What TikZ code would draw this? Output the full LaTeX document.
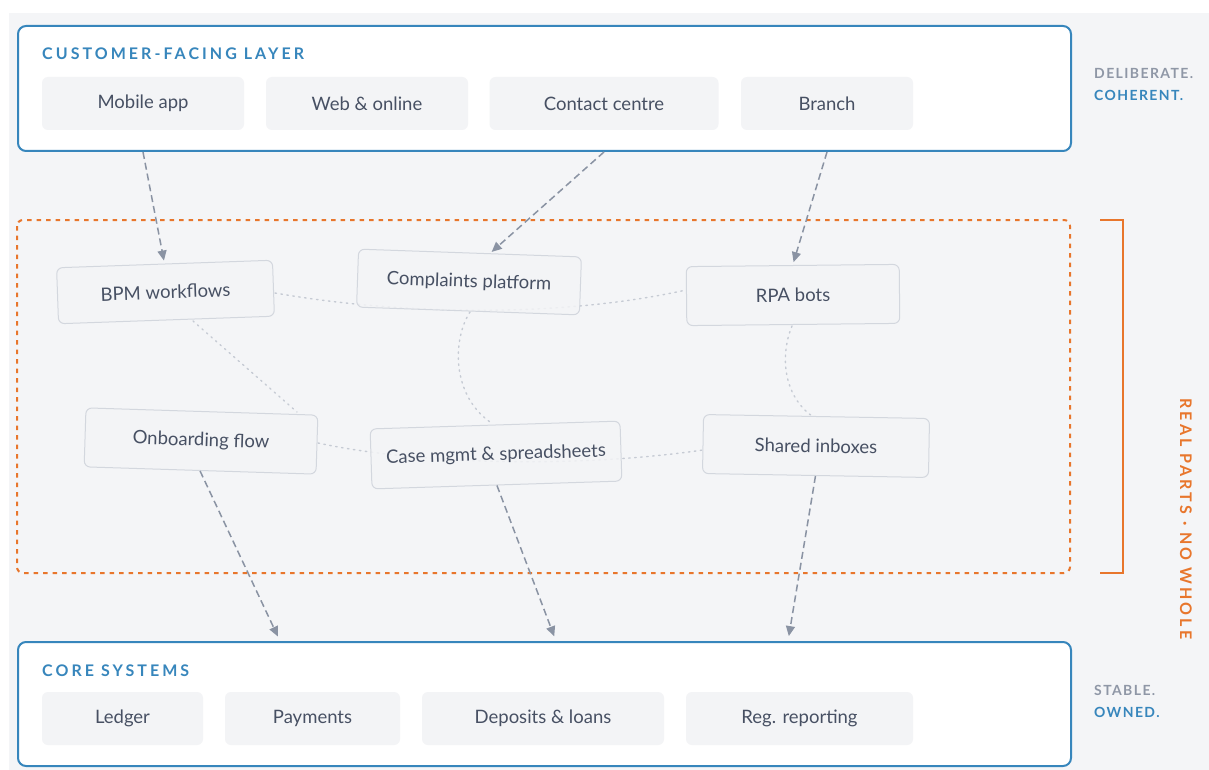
\documentclass[tikz,border=0pt]{standalone}
\usepackage{fontspec}
\setmainfont{Lato}
\usetikzlibrary{arrows.meta,calc}
\definecolor{pagebg}{HTML}{F4F5F7}
\definecolor{layerblue}{HTML}{3786BC}
\definecolor{chipfill}{HTML}{F3F4F6}
\definecolor{chipline}{HTML}{D3D7DE}
\definecolor{inktext}{HTML}{475063}
\definecolor{arrowgray}{HTML}{8A93A3}
\definecolor{dotgray}{HTML}{C6CBD4}
\definecolor{accent}{HTML}{E8762C}
\definecolor{mutedlabel}{HTML}{8F97A6}
\tikzset{
  layerbox/.style={draw=layerblue, line width=2pt, fill=white, rounded corners=8pt},
  layertitle/.style={anchor=base west, inner sep=0pt, text=layerblue, font=\fontsize{16}{19}\selectfont\bfseries\addfontfeatures{LetterSpace=19}},
  chip/.style={fill=chipfill, rounded corners=6pt, text=inktext, font=\fontsize{18.5}{22}\selectfont, inner sep=0pt},
  part/.style={draw=chipline, line width=1pt, fill=chipfill, fill opacity=0.85, text opacity=1, rounded corners=6pt, text=inktext, font=\fontsize{18.5}{22}\selectfont, inner sep=0pt},
  flow/.style={draw=arrowgray, line width=1.5pt, dash pattern=on 7pt off 4pt, -{Triangle[length=10pt,width=9pt]}},
  tangle/.style={draw=dotgray, line width=1.4pt, dash pattern=on 1.5pt off 4.5pt, line cap=round},
  sidenote/.style={anchor=base west, inner sep=0pt, font=\fontsize{14}{17}\selectfont\bfseries\addfontfeatures{LetterSpace=10}},
}
\begin{document}
\begin{tikzpicture}[x=1pt,y=-1pt]
\useasboundingbox (0,0) rectangle (1209,770);
\fill[pagebg] (9,13) rectangle (1209,770);

% customer-facing layer
\node[layerbox, minimum width=1053pt, minimum height=125pt, anchor=north west] (top) at (17,25) {};
\node[layertitle] (toptitle) at (42,60) {CUSTOMER-FACING LAYER};
\node[chip, minimum width=202pt, minimum height=53pt] (mob) at (143,103.5) {Mobile app};
\node[chip, minimum width=202pt, minimum height=53pt] (web) at (367,103.5) {Web \& online};
\node[chip, minimum width=229pt, minimum height=53pt] (cc) at (604,103.5) {Contact centre};
\node[chip, minimum width=172pt, minimum height=53pt] (br) at (827,103.5) {Branch};

% core systems layer
\node[layerbox, minimum width=1053pt, minimum height=124pt, anchor=north west] (core) at (17,641) {};
\node[layertitle] (coretitle) at (42,676) {CORE SYSTEMS};
\node[chip, minimum width=161pt, minimum height=53pt] (led) at (122.5,718.5) {Ledger};
\node[chip, minimum width=175pt, minimum height=53pt] (pay) at (312.5,718.5) {Payments};
\node[chip, minimum width=242pt, minimum height=53pt] (dep) at (543,718.5) {Deposits \& loans};
\node[chip, minimum width=227pt, minimum height=53pt] (reg) at (799.5,718.5) {Reg. reporting};

% side notes
\node[sidenote, text=mutedlabel] (n1) at (1094,79) {DELIBERATE.};
\node[sidenote, text=layerblue] (n2) at (1094,101) {COHERENT.};
\node[sidenote, text=mutedlabel] (n3) at (1094,695) {STABLE.};
\node[sidenote, text=layerblue] (n4) at (1094,717) {OWNED.};

% the middle zone
\draw[accent, line width=2pt, dash pattern=on 4.5pt off 5pt, rounded corners=6pt] (17,220) rectangle (1070,573);
\draw[accent, line width=2.5pt] (1100,220) -- (1123,220) -- (1123,573) -- (1100,573);
\node[text=accent, rotate=-90, inner sep=0pt, font=\fontsize{16}{19}\selectfont\bfseries\addfontfeatures{LetterSpace=19}] (tag) at (1186,519) {REAL PARTS · NO WHOLE};

% loose coordinates where flows land on the core
\coordinate (k1) at (280,641);
\coordinate (k2) at (556,641);
\coordinate (k3) at (788,641);

% tangled connections between the parts
\draw[tangle] (275,293) .. controls (400,315) and (560,318) .. (686,290);
\draw[tangle] (318,443) .. controls (420,465) and (580,468) .. (703,450);
\draw[tangle] (470,312) .. controls (452,340) and (452,395) .. (490,422);
\draw[tangle] (792,326) .. controls (780,355) and (783,395) .. (812,416);
\draw[tangle] (193,321) -- (297,412);

% parts
\node[part, minimum width=216pt, minimum height=56pt, rotate=2] (bpm) at (165.5,292) {BPM workflows};
\node[part, minimum width=223pt, minimum height=58pt, rotate=-2] (cpl) at (469,282) {Complaints platform};
\node[part, minimum width=213pt, minimum height=59pt, rotate=0.6] (rpa) at (793,295) {RPA bots};
\node[part, minimum width=232pt, minimum height=59pt, rotate=-1.8] (onb) at (201,441) {Onboarding flow};
\node[part, minimum width=250pt, minimum height=60pt, rotate=1.8] (cas) at (496,455) {Case mgmt \& spreadsheets};
\node[part, minimum width=226pt, minimum height=59pt, rotate=-1] (shr) at (816,446) {Shared inboxes};

% flows down through the middle
\draw[flow, shorten >=3pt] (mob.south |- top.south) -- (bpm.north);
\draw[flow, shorten >=2pt] (cc.south |- top.south) -- ($(cpl.north)!0.18!(cpl.north east)$);
\draw[flow, shorten >=3pt] (br.south |- top.south) -- (rpa.north);
\draw[flow, shorten >=5pt] (onb.south) -- (k1);
\draw[flow, shorten >=5pt] (cas.south) -- (k2);
\draw[flow, shorten >=5pt] (shr.south) -- (k3);
\end{tikzpicture}
\end{document}
